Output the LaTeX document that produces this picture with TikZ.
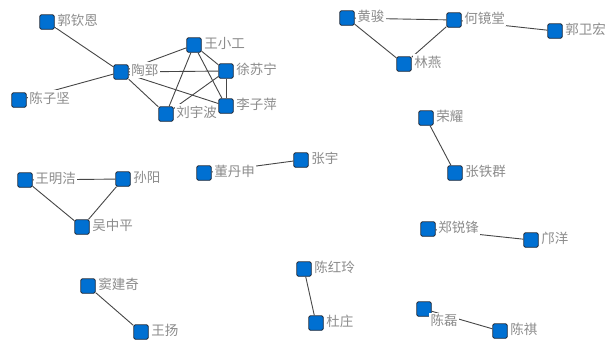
\documentclass[tikz,border=0pt]{standalone}
\usepackage{fontspec}
\setmainfont{Noto Sans CJK SC}
\usetikzlibrary{backgrounds}

\definecolor{nodeBlue}{RGB}{0,112,210}
\definecolor{nodeRim}{RGB}{35,45,60}
\definecolor{nameGray}{RGB}{140,140,140}
\definecolor{linkGray}{RGB}{70,70,70}

\begin{document}
\begin{tikzpicture}[x=1pt,y=-1pt,
  person/.style={draw=nodeRim, line width=0.8pt, fill=nodeBlue, minimum size=14.5pt, inner sep=0pt, rounded corners=1.5pt},
  tag/.style={text=nameGray, fill=white, inner sep=1.5pt, font=\fontsize{13.5}{14}\selectfont, label distance=1pt, yshift=2pt},
  link/.style={draw=linkGray, line width=0.9pt}]

\useasboundingbox (0,0) rectangle (608,341);

% Group around Tao
\node[person,label={[tag]right:郭钦恩}] (guoqinen) at (47,22) {};
\node[person,label={[tag]right:陶郅}] (taozhi) at (121,72) {};
\node[person,label={[tag]right:王小工}] (wangxiaogong) at (194,45) {};
\node[person,label={[tag]right:徐苏宁}] (xusuning) at (226,71) {};
\node[person,label={[tag]right:李子萍}] (liziping) at (226,106) {};
\node[person,label={[tag]right:刘宇波}] (liuyubo) at (166,114) {};
\node[person,label={[tag]right:陈子坚}] (chenzijian) at (19,100) {};

% Group around He
\node[person,label={[tag]right:黄骏}] (huangjun) at (347,18) {};
\node[person,label={[tag]right:何镜堂}] (hejingtang) at (454,20) {};
\node[person,label={[tag]right:郭卫宏}] (guoweihong) at (555,31) {};
\node[person,label={[tag]right:林燕}] (linyan) at (404,64) {};

% Middle row
\node[person,label={[tag]right:王明洁}] (wangmingjie) at (25,180) {};
\node[person,label={[tag]right:孙阳}] (sunyang) at (123,179) {};
\node[person,label={[tag]right:吴中平}] (wuzhongping) at (82,227) {};
\node[person,label={[tag]right:董丹申}] (dongdanshen) at (204,173) {};
\node[person,label={[tag]right:张宇}] (zhangyu) at (301,160) {};
\node[person,label={[tag]right:荣耀}] (rongyao) at (426,118) {};
\node[person,label={[tag]right:张铁群}] (zhangtiequn) at (455,173) {};
\node[person,label={[tag]right:郑锐锋}] (zhengruifeng) at (428,229) {};
\node[person,label={[tag]right:邝洋}] (kuangyang) at (531,240) {};

% Bottom row
\node[person,label={[tag]right:窦建奇}] (doujianqi) at (88,286) {};
\node[person,label={[tag]right:王扬}] (wangyang) at (141,332) {};
\node[person,label={[tag]right:陈红玲}] (chenhongling) at (304,269) {};
\node[person,label={[tag]right:杜庄}] (duzhuang) at (316,323) {};
\node[person,label={[tag,label distance=-4pt,yshift=-1pt]below right:陈磊}] (chenlei) at (424,309) {};
\node[person,label={[tag]right:陈祺}] (chenqi) at (500,331) {};

% Links (behind nodes and names)
\begin{scope}[on background layer]
\draw[link] (guoqinen) -- (taozhi); \draw[link] (chenzijian) -- (taozhi);
\draw[link] (taozhi) -- (wangxiaogong); \draw[link] (taozhi) -- (xusuning);
\draw[link] (taozhi) -- (liziping); \draw[link] (taozhi) -- (liuyubo);
\draw[link] (wangxiaogong) -- (xusuning); \draw[link] (wangxiaogong) -- (liziping);
\draw[link] (wangxiaogong) -- (liuyubo); \draw[link] (xusuning) -- (liziping);
\draw[link] (xusuning) -- (liuyubo);

\draw[link] (huangjun) -- (hejingtang); \draw[link] (huangjun) -- (linyan);
\draw[link] (hejingtang) -- (linyan); \draw[link] (hejingtang) -- (guoweihong);

\draw[link] (wangmingjie) -- (sunyang); \draw[link] (wangmingjie) -- (wuzhongping);
\draw[link] (sunyang) -- (wuzhongping); \draw[link] (dongdanshen) -- (zhangyu);
\draw[link] (rongyao) -- (zhangtiequn); \draw[link] (zhengruifeng) -- (kuangyang);

\draw[link] (doujianqi) -- (wangyang); \draw[link] (chenhongling) -- (duzhuang);
\draw[link] (chenlei) -- (chenqi);
\end{scope}

\end{tikzpicture}
\end{document}
